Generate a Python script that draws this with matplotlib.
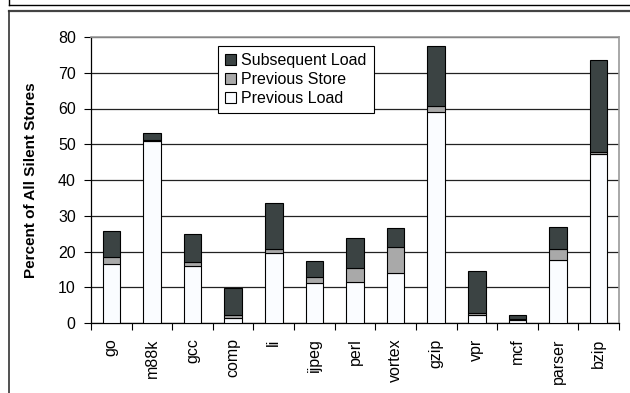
import matplotlib
matplotlib.use("Agg")
import matplotlib.pyplot as plt
from matplotlib.lines import Line2D
from matplotlib.patches import Patch
import numpy as np

benchmarks = ["go", "m88k", "gcc", "comp", "li", "ijpeg", "perl", "vortex",
              "gzip", "vpr", "mcf", "parser", "bzip"]
previous_load = [16.6, 51.0, 16.0, 1.3, 19.5, 11.1, 11.6, 14.1, 58.9, 2.2, 0.9, 17.7, 47.2]
previous_store = [1.8, 0.2, 1.0, 0.8, 1.3, 1.9, 3.9, 7.1, 1.9, 0.7, 0.2, 2.9, 0.5]
subsequent_load = [7.3, 2.0, 8.0, 7.7, 12.9, 4.4, 8.4, 5.3, 16.7, 11.6, 1.0, 6.2, 25.8]
y_ticks = [0, 10, 20, 30, 40, 50, 60, 70, 80]

plt.rcParams["font.family"] = ["Liberation Sans", "DejaVu Sans"]

W, H = 630, 393
fig = plt.figure(figsize=(W / 100, H / 100), dpi=100)
fig.patch.set_facecolor("white")
ax = fig.add_axes([91 / W, 1 - 323 / H, (619 - 91) / W, (323 - 37) / H])

x = np.arange(len(benchmarks))
pl = np.array(previous_load)
ps = np.array(previous_store)
sl = np.array(subsequent_load)
width = 0.43
edge = dict(edgecolor="black", linewidth=0.8, zorder=3)

ax.bar(x, pl, width, color="#fafcff", **edge)
ax.bar(x, ps, width, bottom=pl, color="#a9a9a9", **edge)
ax.bar(x, sl, width, bottom=pl + ps, color="#3b4343", **edge)

ax.set_xlim(-0.5, len(benchmarks) - 0.5)
ax.set_ylim(0, 80)
ax.set_yticks(y_ticks)
ax.set_yticklabels([str(v) for v in y_ticks], fontsize=11.5)
ax.yaxis.grid(True, color="#222222", linewidth=0.9, zorder=0)
ax.set_axisbelow(True)

ax.set_xticks(x)
ax.set_xticklabels(benchmarks, rotation=90, fontsize=11.5)
ax.set_xticks(np.arange(-0.5, len(benchmarks), 1.0), minor=True)
ax.tick_params(axis="x", which="major", length=0, pad=11)
ax.tick_params(axis="x", which="minor", length=5, width=0.8, color="black")
ax.tick_params(axis="y", which="major", length=5, width=0.8, pad=6)

for side in ("top", "right"):
    ax.spines[side].set_color("#999999")
    ax.spines[side].set_linewidth(1.2)
for side in ("left", "bottom"):
    ax.spines[side].set_color("black")
    ax.spines[side].set_linewidth(0.9)

ax.set_ylabel("Percent of All Silent Stores", fontsize=11, fontweight="bold", labelpad=14)

handles = [Patch(facecolor="#3b4343", edgecolor="black", linewidth=0.8),
           Patch(facecolor="#a9a9a9", edgecolor="black", linewidth=0.8),
           Patch(facecolor="#fafcff", edgecolor="black", linewidth=0.8)]
leg = ax.legend(handles, ["Subsequent Load", "Previous Store", "Previous Load"],
                loc="upper left", bbox_to_anchor=((218 - 91) / (619 - 91), (323 - 46) / (323 - 37)),
                fontsize=11.5, frameon=True, fancybox=False, framealpha=1,
                edgecolor="black", borderpad=0.45, labelspacing=0.25,
                handlelength=0.65, handleheight=0.65, handletextpad=0.35,
                borderaxespad=0)
leg.get_frame().set_linewidth(0.8)
leg.set_zorder(5)

# page frame lines
fig.add_artist(Line2D([9 / W, 1], [1 - 5 / H, 1 - 5 / H], color="black", linewidth=1.0))
fig.add_artist(Line2D([9 / W, 9 / W], [1, 1 - 5 / H], color="black", linewidth=1.0))
fig.add_artist(Line2D([9 / W, 1], [1 - 11 / H, 1 - 11 / H], color="#444444", linewidth=1.6))
fig.add_artist(Line2D([9 / W, 9 / W], [1 - 11 / H, 0], color="#333333", linewidth=1.2))

fig.savefig("out.png", dpi=100, facecolor="white")
